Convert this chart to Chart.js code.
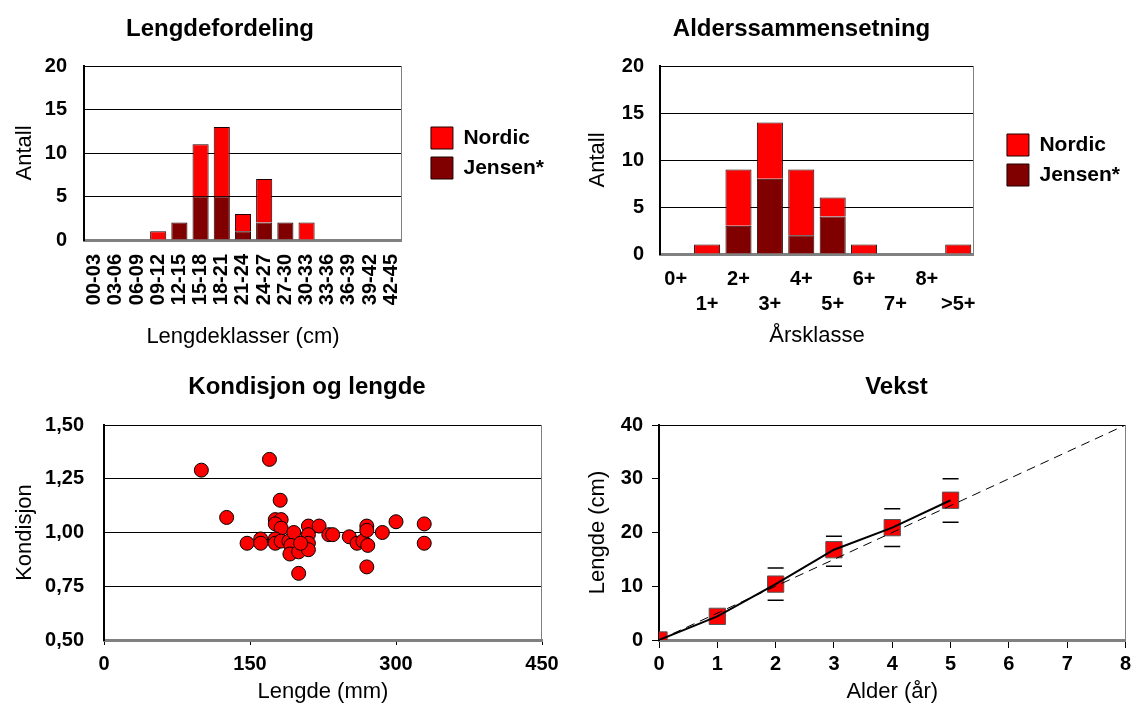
<!DOCTYPE html>
<html>
<head>
<meta charset="utf-8">
<script src="https://cdn.jsdelivr.net/npm/chart.js@4.4.1/dist/chart.umd.min.js"></script>
<style>
  html, body { margin: 0; padding: 0; background: #fff; }
  #wrap { position: relative; width: 1138px; height: 706px; }
  canvas { position: absolute; }
</style>
</head>
<body>
<div id="wrap">
  <canvas id="lengthChart" width="569" height="353" style="left:0;top:0"></canvas>
  <canvas id="ageChart" width="569" height="353" style="left:569px;top:0"></canvas>
  <canvas id="conditionChart" width="569" height="353" style="left:0;top:353px"></canvas>
  <canvas id="growthChart" width="569" height="353" style="left:569px;top:353px"></canvas>
</div>
<script>
// length distribution
const lengthClasses = ['00-03', '03-06', '06-09', '09-12', '12-15', '15-18', '18-21', '21-24',
  '24-27', '27-30', '30-33', '33-36', '36-39', '39-42', '42-45'];
const lengthNordic = [0, 0, 0, 1, 0, 6, 8, 2, 5, 0, 2, 0, 0, 0, 0];
const lengthJensen = [0, 0, 0, 0, 2, 5, 5, 1, 2, 2, 0, 0, 0, 0, 0];

// age composition
const ageClasses = ['0+', '1+', '2+', '3+', '4+', '5+', '6+', '7+', '8+', '>5+'];
const ageNordic = [0, 1, 6, 6, 7, 2, 1, 0, 0, 1];
const ageJensen = [0, 0, 3, 8, 2, 4, 0, 0, 0, 0];

// condition vs length
const fishLength = [100, 170, 181, 126, 176, 182, 176, 182, 147, 161,
  161, 176, 176, 182, 190, 195, 192, 191, 200, 200,
  210, 210, 210, 210, 202, 221, 231, 235, 252, 260,
  266, 271, 270, 270, 270, 286, 300, 329, 329];
const fishCondition = [1.29, 1.34, 1.15, 1.07, 1.06, 1.06, 1.04, 1.02, 0.95, 0.97,
  0.95, 0.97, 0.95, 0.96, 0.96, 1.00, 0.94, 0.90, 0.91, 0.81,
  1.03, 0.99, 0.95, 0.92, 0.95, 1.03, 0.99, 0.99, 0.98, 0.95,
  0.96, 0.94, 1.03, 1.01, 0.84, 1.00, 1.05, 1.04, 0.95];

// growth
const ages = [0, 1, 2, 3, 4, 5];
const meanLength = [0, 4.4, 10.4, 16.8, 20.9, 26.0];
const upperLength = [null, null, 13.4, 19.3, 24.4, 30.0];
const lowerLength = [null, null, 7.4, 13.7, 17.4, 21.9];
const refAges = [0, 8];
const refLength = [0, 40];

Chart.defaults.font.family = '"Liberation Sans", Arial, sans-serif';
Chart.defaults.color = '#000';
Chart.defaults.animation = false;

const tickFont = { size: 20, weight: 'bold' };
const axisTitleFont = { size: 22 };
const legendFont = { size: 21, weight: 'bold' };

// top and right edge of the plot box
const frame = {
  id: 'frame',
  beforeDatasetsDraw(chart) {
    const { ctx, chartArea: a } = chart;
    ctx.save();
    ctx.lineWidth = 1;
    ctx.strokeStyle = '#000';
    ctx.beginPath();
    ctx.moveTo(a.left, Math.round(a.top) + 0.5);
    ctx.lineTo(a.right, Math.round(a.top) + 0.5);
    ctx.stroke();
    ctx.strokeStyle = '#808080';
    ctx.beginPath();
    ctx.moveTo(Math.round(a.right) - 0.5, a.top);
    ctx.lineTo(Math.round(a.right) - 0.5, a.bottom);
    ctx.stroke();
    ctx.restore();
  }
};

// move the chart title sideways
const titleShift = {
  id: 'titleShift',
  afterLayout(chart, args, opts) {
    const t = chart.titleBlock;
    if (t && opts.dx) {
      t.left += opts.dx;
      t.right += opts.dx;
    }
  }
};

function chartTitle(text, top, bottom) {
  return {
    display: true,
    text: text,
    font: { size: 24, weight: 'bold' },
    color: '#000',
    padding: { top: top, bottom: bottom }
  };
}

function stackedBarChart(id, labels, nordic, jensen, opts) {
  return new Chart(document.getElementById(id), {
    type: 'bar',
    data: {
      labels: labels,
      datasets: [{
        label: 'Jensen*',
        data: jensen,
        backgroundColor: '#800000',
        borderColor: '#200000',
        borderWidth: 1,
        categoryPercentage: 1,
        barPercentage: opts.barPct
      }, {
        label: 'Nordic',
        data: nordic,
        backgroundColor: '#ff0000',
        borderColor: '#200000',
        borderWidth: 1,
        categoryPercentage: 1,
        barPercentage: opts.barPct
      }]
    },
    options: {
      responsive: false,
      layout: { padding: { right: opts.padRight } },
      plugins: {
        title: chartTitle(opts.title, 14.6, 22.6),
        titleShift: { dx: opts.titleDx },
        tooltip: { enabled: false },
        legend: {
          position: 'right',
          fullSize: false,
          reverse: true,
          maxWidth: 300,
          labels: { boxWidth: 22, boxHeight: 22, padding: 8, font: legendFont, color: '#000' }
        }
      },
      scales: {
        x: {
          stacked: true,
          grid: { display: false },
          border: { color: '#808080', width: 3 },
          ticks: opts.xTicks,
          title: { display: true, text: opts.xTitle, font: axisTitleFont, padding: { top: 0, bottom: opts.xTitlePad } },
          afterFit: s => { s.height = opts.xHeight; }
        },
        y: {
          stacked: true,
          min: 0,
          max: 20,
          ticks: { stepSize: 5, font: tickFont, padding: opts.yPad },
          grid: { color: '#000', drawTicks: false },
          border: { color: '#000', width: 2 },
          title: { display: true, text: 'Antall', font: axisTitleFont, padding: { top: opts.yTitlePad, bottom: 0 } },
          afterFit: s => { s.width = opts.yWidth; }
        },
        y2: {
          position: 'right',
          grid: { display: false },
          ticks: { display: false },
          border: { display: false },
          afterFit: s => { s.width = opts.gap; }
        }
      }
    },
    plugins: [frame, titleShift]
  });
}

stackedBarChart('lengthChart', lengthClasses, lengthNordic, lengthJensen, {
  title: 'Lengdefordeling',
  titleDx: -57,
  barPct: 0.76,
  padRight: 15,
  gap: 21,
  yWidth: 84,
  yPad: 17,
  yTitlePad: 12,
  xHeight: 113,
  xTitle: 'Lengdeklasser (cm)',
  xTitlePad: 3,
  xTicks: { font: tickFont, minRotation: 90, maxRotation: 90, autoSkip: false, padding: 6 }
});

stackedBarChart('ageChart', ageClasses, ageNordic, ageJensen, {
  title: 'Alderssammensetning',
  titleDx: -48,
  barPct: 0.83,
  padRight: 8,
  gap: 25,
  yWidth: 91,
  yPad: 16,
  yTitlePad: 16,
  xHeight: 99,
  xTitle: 'Årsklasse',
  xTitlePad: 4,
  xTicks: {
    font: { size: 20, weight: 'bold', lineHeight: 1.25 },
    maxRotation: 0,
    autoSkip: false,
    padding: 5,
    callback: function (value, index) {
      const lbl = this.getLabelForValue(value);
      return index % 2 ? ['', lbl] : lbl;
    }
  }
});

new Chart(document.getElementById('conditionChart'), {
  type: 'scatter',
  data: {
    datasets: [{
      label: 'Kondisjon',
      data: fishLength.map((x, i) => ({ x: x, y: fishCondition[i] })),
      backgroundColor: '#ff0000',
      borderColor: '#000',
      borderWidth: 1,
      pointRadius: 7
    }]
  },
  options: {
    responsive: false,
    layout: { padding: { right: 27 } },
    plugins: {
      title: chartTitle('Kondisjon og lengde', 19.6, 23.6),
      titleShift: { dx: 36 },
      legend: { display: false },
      tooltip: { enabled: false }
    },
    scales: {
      x: {
        type: 'linear',
        min: 0,
        max: 450,
        ticks: { stepSize: 150, font: tickFont, padding: 7 },
        grid: { drawOnChartArea: false, tickLength: 5, tickColor: '#000' },
        border: { color: '#808080', width: 3 },
        title: { display: true, text: 'Lengde (mm)', font: axisTitleFont, padding: { top: 0, bottom: 1 } },
        afterFit: s => { s.height = 66; }
      },
      y: {
        min: 0.5,
        max: 1.5,
        ticks: {
          stepSize: 0.25,
          font: tickFont,
          padding: 20,
          callback: v => v.toFixed(2).replace('.', ',')
        },
        grid: { color: '#000', drawTicks: false },
        border: { color: '#000', width: 2 },
        title: { display: true, text: 'Kondisjon', font: axisTitleFont, padding: { top: 12, bottom: 0 } },
        afterFit: s => { s.width = 104; }
      }
    }
  },
  plugins: [frame, titleShift]
});

const toPoints = (xs, ys) => xs.map((x, i) => ({ x: x, y: ys[i] })).filter(p => p.y !== null);

new Chart(document.getElementById('growthChart'), {
  type: 'line',
  data: {
    datasets: [{
      label: 'Middel',
      data: toPoints(ages, meanLength),
      borderColor: '#000',
      borderWidth: 2,
      pointRadius: 0,
      fill: false
    }, {
      label: 'Referanse',
      data: toPoints(refAges, refLength),
      borderColor: '#000',
      borderWidth: 1,
      borderDash: [9, 6],
      pointRadius: 0,
      fill: false
    }, {
      label: 'Øvre',
      data: toPoints(ages, upperLength),
      showLine: false,
      pointStyle: 'line',
      pointRadius: 8,
      pointBorderColor: '#000',
      pointBorderWidth: 1.5
    }, {
      label: 'Nedre',
      data: toPoints(ages, lowerLength),
      showLine: false,
      pointStyle: 'line',
      pointRadius: 8,
      pointBorderColor: '#000',
      pointBorderWidth: 1.5
    }, {
      label: 'Lengde',
      data: toPoints(ages, meanLength),
      showLine: false,
      pointStyle: 'rect',
      pointRadius: 11.5,
      pointBackgroundColor: '#ff0000',
      pointBorderColor: '#555',
      pointBorderWidth: 1
    }]
  },
  options: {
    responsive: false,
    layout: { padding: { right: 6 } },
    plugins: {
      title: chartTitle('Vekst', 19.6, 23.6),
      titleShift: { dx: 46 },
      legend: { display: false },
      tooltip: { enabled: false }
    },
    scales: {
      x: {
        type: 'linear',
        min: 0,
        max: 8,
        ticks: { stepSize: 1, font: tickFont, padding: 4 },
        grid: { drawOnChartArea: false, tickLength: 8, tickColor: '#000' },
        border: { color: '#808080', width: 3 },
        title: { display: true, text: 'Alder (år)', font: axisTitleFont, padding: { top: 0, bottom: 1 } },
        afterFit: s => { s.height = 66; }
      },
      y: {
        min: 0,
        max: 40,
        ticks: { stepSize: 10, font: tickFont, padding: 9 },
        grid: { drawOnChartArea: false, tickLength: 7, tickColor: '#000' },
        border: { color: '#000', width: 2 },
        title: { display: true, text: 'Lengde (cm)', font: axisTitleFont, padding: { top: 16, bottom: 0 } },
        afterFit: s => { s.width = 90; }
      }
    }
  },
  plugins: [frame, titleShift]
});
</script>
</body>
</html>
